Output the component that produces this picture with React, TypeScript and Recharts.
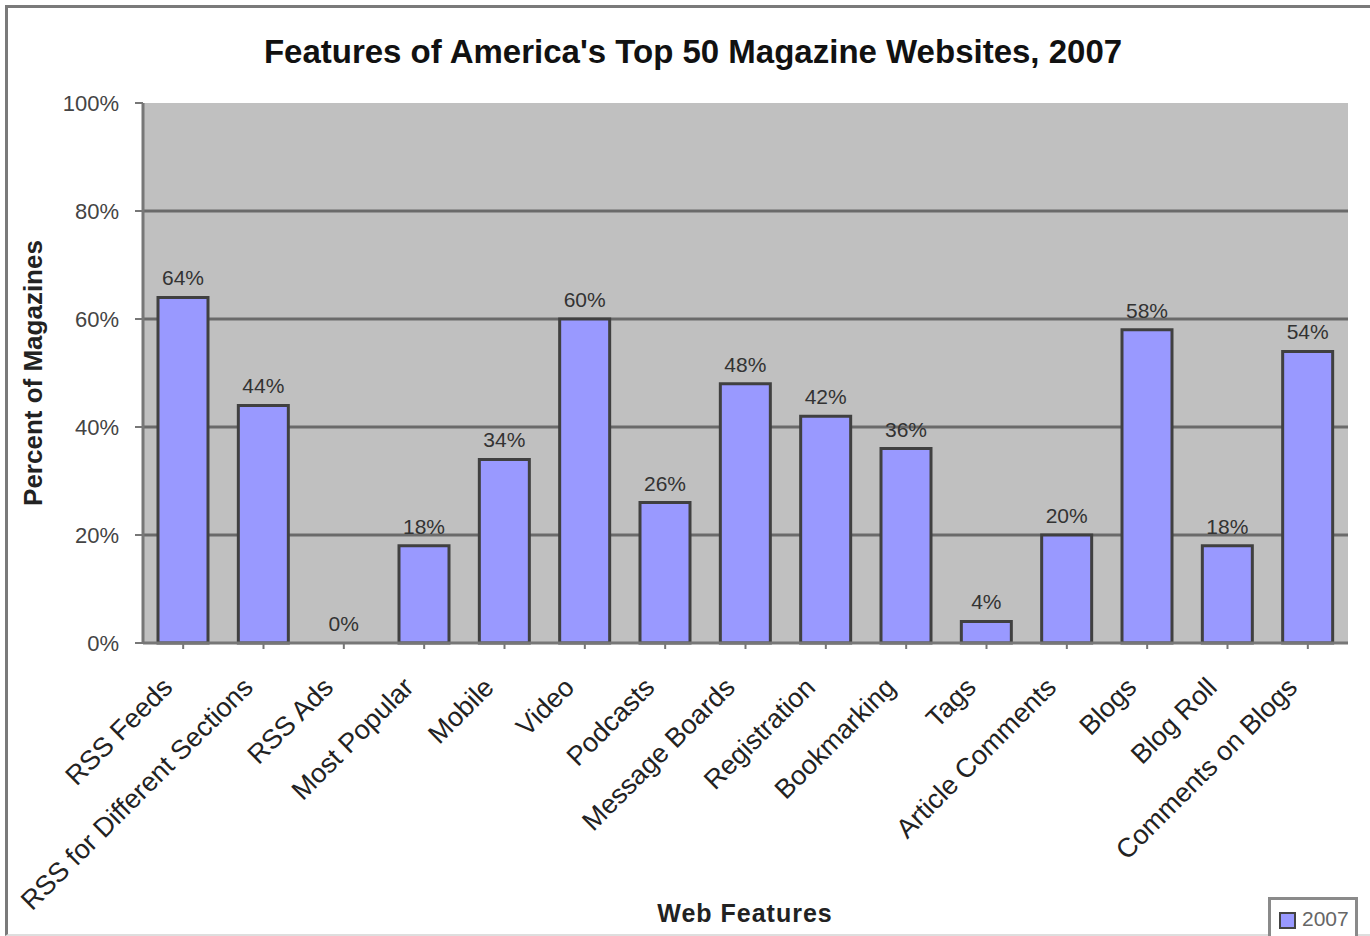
import React from "react";
import { BarChart, Bar, XAxis, YAxis, CartesianGrid, LabelList, Cell } from "recharts";

const categories = [
  "RSS Feeds",
  "RSS for Different Sections",
  "RSS Ads",
  "Most Popular",
  "Mobile",
  "Video",
  "Podcasts",
  "Message Boards",
  "Registration",
  "Bookmarking",
  "Tags",
  "Article Comments",
  "Blogs",
  "Blog Roll",
  "Comments on Blogs",
];
const values2007 = [64, 44, 0, 18, 34, 60, 26, 48, 42, 36, 4, 20, 58, 18, 54];
const yTicks = [0, 20, 40, 60, 80, 100];
const seriesName = "2007";
const title = "Features of America's Top 50 Magazine Websites, 2007";
const xTitle = "Web Features";
const yTitle = "Percent of Magazines";

const data = categories.map((c, i) => ({ name: c, v: values2007[i] }));

const FONT = "'Liberation Sans', Arial, sans-serif";

const XTick = (props: any) => {
  const { x, y, payload } = props;
  const px = x - 9;
  const py = y + 38;
  return (
    <text
      x={px}
      y={py}
      transform={`rotate(-45, ${px}, ${py})`}
      textAnchor="end"
      fontSize={27}
      fontFamily={FONT}
      fill="#222"
    >
      {payload.value}
    </text>
  );
};

export default function App() {
  return (
    <div style={{ position: "absolute", left: 0, top: 0, width: 1370, height: 936, background: "#fff", overflow: "hidden" }}>
      <div
        style={{
          position: "absolute",
          left: 5,
          top: 5,
          width: 1370,
          height: 926,
          borderLeft: "3px solid #7a7a7a",
          borderTop: "3px solid #7a7a7a",
          borderBottom: "2px solid #dedede",
        }}
      />
      <div
        style={{
          position: "absolute",
          left: 0,
          top: 36,
          width: 1386,
          textAlign: "center",
          fontFamily: FONT,
          fontWeight: "bold",
          fontSize: 33,
          lineHeight: "32px",
          color: "#111",
        }}
      >
        {title}
      </div>
      <div
        style={{
          position: "absolute",
          left: 33 - 200,
          top: 373 - 15,
          width: 400,
          height: 30,
          lineHeight: "30px",
          textAlign: "center",
          transform: "rotate(-90deg)",
          fontFamily: FONT,
          fontWeight: "bold",
          fontSize: 26,
          color: "#222",
        }}
      >
        {yTitle}
      </div>
      <div
        style={{
          position: "absolute",
          left: 745 - 200,
          top: 901,
          width: 400,
          textAlign: "center",
          fontFamily: FONT,
          fontWeight: "bold",
          fontSize: 25,
          lineHeight: "25px",
          color: "#222",
          letterSpacing: 1,
        }}
      >
        {xTitle}
      </div>
      <div style={{ position: "absolute", left: 0, top: 0 }}>
        <BarChart
          width={1370}
          height={936}
          data={data}
          margin={{ top: 103, right: 22, bottom: 0, left: 0 }}
          barSize={50}
        >
          <CartesianGrid
            vertical={false}
            fill="#c0c0c0"
            stroke="#6a6a6a"
            strokeWidth={3}
            horizontalValues={[20, 40, 60, 80]}
          />
          <YAxis
            width={143}
            domain={[0, 100]}
            ticks={yTicks}
            interval={0}
            tickFormatter={(v: number) => `${v}%`}
            tick={{ fontSize: 22, fill: "#444", fontFamily: FONT }}
            tickLine={{ stroke: "#777", strokeWidth: 2 }}
            tickSize={8}
            tickMargin={16}
            axisLine={{ stroke: "#777", strokeWidth: 3 }}
          />
          <XAxis
            dataKey="name"
            height={293}
            interval={0}
            tick={<XTick />}
            tickLine={{ stroke: "#777", strokeWidth: 2 }}
            tickSize={6}
            axisLine={{ stroke: "#777", strokeWidth: 3 }}
          />
          <Bar
            dataKey="v"
            name={seriesName}
            fill="#9999ff"
            stroke="#404040"
            strokeWidth={3}
            minPointSize={0.01}
            isAnimationActive={false}
          >
            {values2007.map((v, i) => (
              <Cell key={i} stroke={v === 0 ? "none" : "#404040"} fill={v === 0 ? "none" : "#9999ff"} />
            ))}
            <LabelList
              dataKey="v"
              position="top"
              offset={12}
              formatter={(v: any) => `${v}%`}
              style={{ fontSize: 21, fill: "#333", fontFamily: FONT }}
            />
          </Bar>
        </BarChart>
      </div>
      <div
        style={{
          position: "absolute",
          left: 1268,
          top: 897,
          width: 90,
          height: 44,
          border: "3px solid #8a8a8a",
          background: "#fff",
          display: "flex",
          alignItems: "flex-start",
          paddingTop: 6,
          paddingLeft: 8,
          boxSizing: "border-box",
          fontFamily: FONT,
        }}
      >
        <span
          style={{
            width: 13,
            height: 13,
            background: "#9999ff",
            border: "2px solid #444",
            marginTop: 6,
            marginRight: 6,
            display: "inline-block",
          }}
        />
        <span style={{ fontSize: 21, color: "#666", lineHeight: "26px" }}>{seriesName}</span>
      </div>
    </div>
  );
}
